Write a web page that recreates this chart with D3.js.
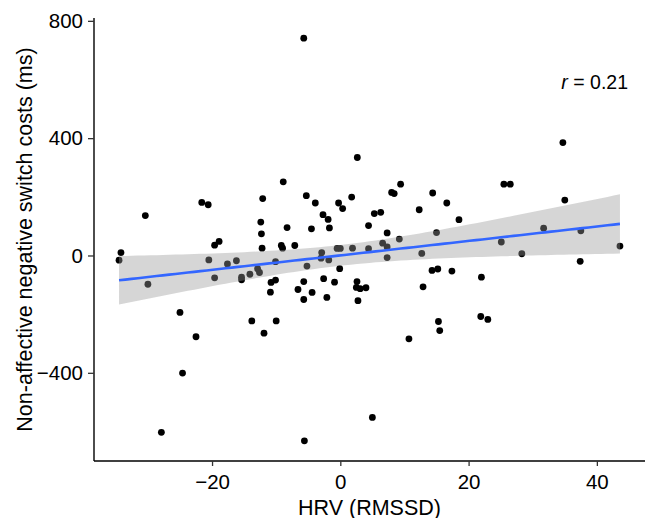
<!DOCTYPE html>
<html>
<head>
<meta charset="utf-8">
<script src="https://cdn.jsdelivr.net/npm/d3@7"></script>
<style>
  body { margin: 0; background: #fff; }
  svg { display: block; font-family: "Liberation Sans", Arial, sans-serif; }
</style>
</head>
<body>
<div class="chart"></div>
<script>
// HRV (RMSSD) values and switch costs (ms)
const hrv = [
  -5.7, 2.65, -8.9, -30.4, -21.6, -20.6, -12.1, -5.3, -3.9, -0.27,
  0.36, 1.77, -2.7, -1.9, -1.7, -4.5, -8.3, -12.4, -12.3, 4.4,
  -18.9, 34.7, 35.0, 25.5, 26.5, 9.4, 8.0, 8.4, 14.4, 16.6,
  12.3, 18.5, 5.3, 6.3, 7.3, 15.0, 9.2, 31.7, 37.5, -34.2,
  -34.5, -30.0, -19.6, -12.2, -9.2, -9.0, -7.1, -20.5, -17.6, -16.2,
  -19.6, -15.4, -15.4, -14.1, -12.9, -12.6, -10.1, -10.8, -10.1, -10.9,
  -13.8, -10.0, -11.9, -25.0, -22.5, -24.6, -27.9, -5.6, -5.2, -5.7,
  -6.6, -4.4, -5.7, -2.9, -3.0, -1.8, -2.6, -2.1, -0.9, -0.5,
  0.0, -0.1, 1.9, 4.4, 2.6, 2.5, 3.1, 4.0, 2.75, 6.6,
  7.3, 7.3, 12.7, 25.1, 28.3, 43.6, 37.4, 14.3, 15.2, 17.4,
  12.9, 22.0, 21.9, 23.0, 15.3, 15.5, 10.7, 5.0
];
const switchCost = [
  741, 334, 251, 136, 181, 173, 194, 204, 179, 179,
  160, 199, 139, 123, 94, 91, 95, 114, 74, 102,
  48, 385, 189, 243, 243, 243, 215, 211, 213, 179,
  156, 122, 143, 147, 77, 78, 56, 93, 84, 10,
  -16, -98, 35, 25, 34, 25, 34, -15, -29, -18,
  -76, -74, -83, -64, -45, -58, -21, -92, -84, -125,
  -223, -223, -265, -194, -277, -401, -603, -632, -36, -89,
  -116, -126, -150, 10, -9, -15, -79, -143, -91, 24,
  24, -45, 25, 23, -89, -109, -113, -110, -154, 42,
  29, -7, 7, 46, 6, 32, -20, -51, -46, -53,
  -107, -74, -208, -218, -225, -256, -284, -552
];
const xTicks = [-20, 0, 20, 40];
const yTicks = [-400, 0, 400, 800];
const corrLabel = "0.21";

const data = hrv.map((x, i) => ({x: x, y: switchCost[i]}));

const svgWidth = 649;
const svgHeight = 518;
const margin = {top: 18, right: 4, bottom: 57, left: 94};
const graphWidth = svgWidth - margin.left - margin.right;
const graphHeight = svgHeight - margin.top - margin.bottom;

// ggplot style 5% expansion
const expand = ext => {
  const pad = (ext[1] - ext[0]) * 0.05;
  return [ext[0] - pad, ext[1] + pad];
};
const xExt = d3.extent(data, d => d.x);
const yExt = d3.extent(data, d => d.y);

const xScale = d3.scaleLinear().domain(expand(xExt)).range([0, graphWidth]);
const yScale = d3.scaleLinear().domain(expand(yExt)).range([graphHeight, 0]);

// linear fit with 95% confidence band
const n = data.length;
const mx = d3.mean(data, d => d.x);
const my = d3.mean(data, d => d.y);
const sxx = d3.sum(data, d => (d.x - mx) ** 2);
const sxy = d3.sum(data, d => (d.x - mx) * (d.y - my));
const slope = sxy / sxx;
const intercept = my - slope * mx;
const sse = d3.sum(data, d => (d.y - intercept - slope * d.x) ** 2);
const s = Math.sqrt(sse / (n - 2));
const tCrit = 1.983;
const fitPts = d3.range(0, 81).map(i => {
  const x = xExt[0] + (xExt[1] - xExt[0]) * i / 80;
  const fit = intercept + slope * x;
  const se = s * Math.sqrt(1 / n + (x - mx) ** 2 / sxx);
  return {x: x, fit: fit, lo: fit - tCrit * se, hi: fit + tCrit * se};
});

const svg = d3.select('.chart')
  .append('svg')
  .attr('width', svgWidth)
  .attr('height', svgHeight);
const graph = svg.append('g')
  .attr('transform', `translate(${margin.left},${margin.top})`);

// points
graph.selectAll('.dot')
  .data(data)
  .join('circle')
  .attr('class', 'dot')
  .attr('cx', d => xScale(d.x))
  .attr('cy', d => yScale(d.y))
  .attr('r', 3.4)
  .attr('fill', '#000');

// confidence ribbon over the points
graph.append('path')
  .datum(fitPts)
  .attr('d', d3.area()
    .x(d => xScale(d.x))
    .y0(d => yScale(d.lo))
    .y1(d => yScale(d.hi)))
  .attr('fill', '#999999')
  .attr('fill-opacity', 0.4);

graph.append('path')
  .datum(fitPts)
  .attr('d', d3.line()
    .x(d => xScale(d.x))
    .y(d => yScale(d.fit)))
  .attr('fill', 'none')
  .attr('stroke', '#3366FF')
  .attr('stroke-width', 2.6);

// axes
const xAxis = graph.append('g')
  .attr('transform', `translate(0,${graphHeight})`)
  .call(d3.axisBottom(xScale).tickValues(xTicks).tickSize(5).tickPadding(5).tickSizeOuter(0));
const yAxis = graph.append('g')
  .call(d3.axisLeft(yScale).tickValues(yTicks).tickSize(6).tickPadding(5).tickSizeOuter(0));

[xAxis, yAxis].forEach(ax => {
  ax.select('.domain').attr('stroke', '#000').attr('stroke-width', 1.4)
    .attr('d', ax === xAxis ? `M0,0H${graphWidth}` : `M0,0V${graphHeight}`);
  ax.selectAll('.tick line').attr('stroke', '#333').attr('stroke-width', 1.3);
  ax.selectAll('.tick text')
    .attr('fill', '#000')
    .style('font-size', '20.5px')
    .style('font-family', '"Liberation Sans", Arial, sans-serif');
});
xAxis.selectAll('.tick text').attr('dy', '0.86em');

// axis titles
svg.append('text')
  .attr('x', margin.left + graphWidth / 2)
  .attr('y', 514.5)
  .attr('text-anchor', 'middle')
  .style('font-size', '21.5px')
  .text('HRV (RMSSD)');

svg.append('text')
  .attr('transform', `translate(31.5,${margin.top + graphHeight / 2}) rotate(-90)`)
  .attr('text-anchor', 'middle')
  .style('font-size', '21.5px')
  .text('Non-affective negative switch costs (ms)');

// correlation label
const rText = svg.append('text')
  .attr('x', 628)
  .attr('y', 89)
  .attr('text-anchor', 'end')
  .style('font-size', '19.5px');
rText.append('tspan').style('font-style', 'italic').text('r');
rText.append('tspan').text(' = ' + corrLabel);
</script>
</body>
</html>
